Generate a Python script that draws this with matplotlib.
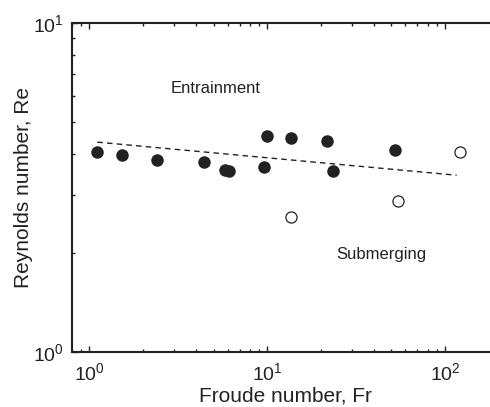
import math

import matplotlib
matplotlib.use('Agg')
import matplotlib.pyplot as plt
from matplotlib.ticker import LogLocator, FuncFormatter, NullFormatter

plt.rcParams['font.family'] = ['Liberation Sans', 'DejaVu Sans']
plt.rcParams['mathtext.fontset'] = 'custom'
plt.rcParams['mathtext.rm'] = 'Liberation Sans'
plt.rcParams['mathtext.it'] = 'Liberation Sans:italic'

# entrainment cases (filled)
fr_ent = [1.11, 1.52, 2.40, 4.41, 5.80, 6.11, 9.65, 9.95, 13.6, 21.6, 23.4, 52.6]
re_ent = [4.05, 3.97, 3.83, 3.78, 3.58, 3.55, 3.65, 4.54, 4.47, 4.39, 3.55, 4.12]

# submerging cases (open)
fr_sub = [13.6, 54.7, 122.0]
re_sub = [2.57, 2.87, 4.05]

# dashed boundary
fr_fit = [1.11, 116.5]
re_fit = [4.35, 3.45]

TXT = '#222222'

fig = plt.figure(figsize=(4.9, 4.07), dpi=100)
# axes runs past the right edge of the image (right spine cropped)
ax = fig.add_axes([72 / 490, 55 / 407, 426.4 / 490, 328.7 / 407])

ax.plot(fr_fit, re_fit, linestyle=(0, (4, 3)), color=TXT, linewidth=1.0)
ax.plot(fr_ent, re_ent, 'o', color=TXT, markersize=9, markeredgewidth=0)
ax.plot(fr_sub, re_sub, 'o', markerfacecolor='white', markeredgecolor=TXT,
        markersize=8, markeredgewidth=0.9)

ax.set_xscale('log')
ax.set_yscale('log')
ax.set_xlim(0.8, 200)
ax.set_ylim(1, 10)

fmt = FuncFormatter(lambda v, p: r'$\mathregular{10^{%d}}$' % round(math.log10(v)))
for axis in (ax.xaxis, ax.yaxis):
    axis.set_major_locator(LogLocator(base=10))
    axis.set_minor_locator(LogLocator(base=10, subs=range(2, 10)))
    axis.set_major_formatter(fmt)
    axis.set_minor_formatter(NullFormatter())

ax.tick_params(which='both', direction='in', top=True, right=True, colors=TXT,
               labelcolor=TXT, labelsize=14, width=1.0)
ax.tick_params(which='major', length=4.5)
ax.tick_params(which='minor', length=2.5)
ax.tick_params(axis='x', pad=7)
ax.tick_params(axis='y', pad=6)
for s in ax.spines.values():
    s.set_linewidth(1.5)
    s.set_color(TXT)

ax.set_xlabel('Froude number, Fr', fontsize=15, color=TXT, labelpad=2)
ax.set_ylabel('Reynolds number, Re', fontsize=15, color=TXT, labelpad=0)

ax.text(2.88, 6.14, 'Entrainment', fontsize=12, color=TXT, ha='left', va='baseline')
ax.text(24.4, 1.92, 'Submerging', fontsize=12, color=TXT, ha='left', va='baseline')

fig.savefig('out.png', dpi=100)
